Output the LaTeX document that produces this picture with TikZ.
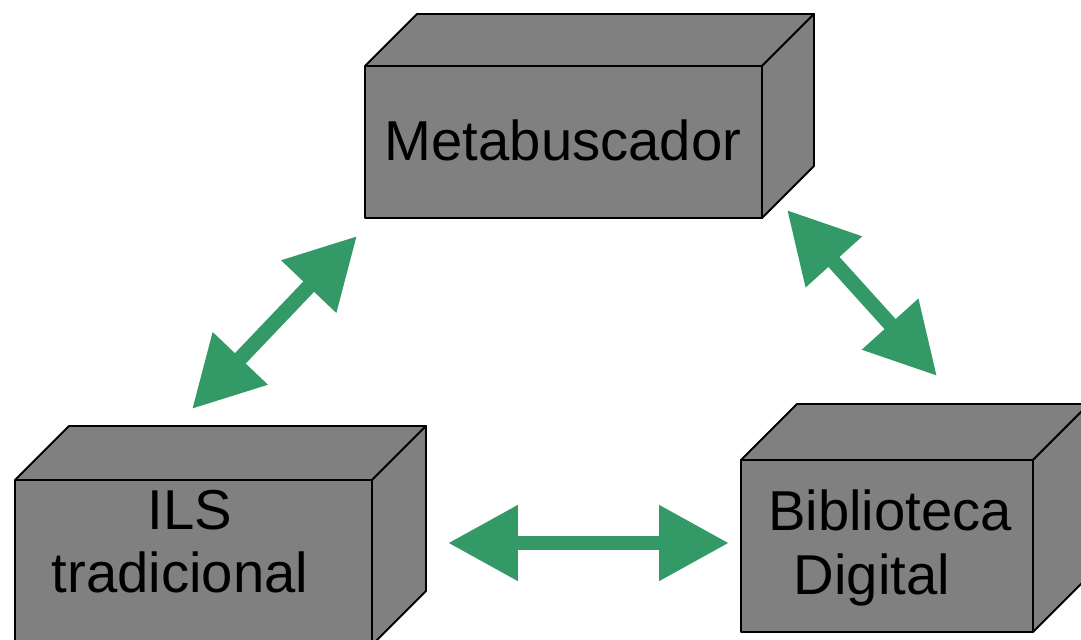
\documentclass[tikz,border=0pt]{standalone}
\usepackage{fontspec}
\setmainfont{Liberation Sans}
\usetikzlibrary{arrows.meta}
\definecolor{gris}{RGB}{128,128,128}
\definecolor{verde}{RGB}{51,153,102}

\tikzset{
  cara/.style={draw=black, fill=gris, line width=1.1pt, line join=round},
  frente/.style={cara, rectangle, outer sep=0pt, inner sep=0pt},
  rotulo/.style={align=center, inner sep=0pt, font=\fontsize{32}{36}\selectfont},
  flecha/.style={verde, line width=8.5pt,
    {Triangle[length=1.4cm,width=1.44cm]}-{Triangle[length=1.4cm,width=1.44cm]}}
}
% top and right faces of a box, #1 = front node, #2 = depth
\newcommand{\cubo}[2]{%
  \draw[cara] (#1.north west) -- ([shift={(#2,-#2)}]#1.north west)
    -- ([shift={(#2,-#2)}]#1.north east) -- (#1.north east) -- cycle;
  \draw[cara] (#1.north east) -- ([shift={(#2,-#2)}]#1.north east)
    -- ([shift={(#2,-#2)}]#1.south east) -- (#1.south east) -- cycle;
}

\begin{document}
\begin{tikzpicture}[x=0.02cm,y=-0.02cm]
  \useasboundingbox (0,0) rectangle (1081,639);
  \clip (0,0) rectangle (1081,639);

  % boxes
  \node[frente, minimum width=7.94cm, minimum height=3.04cm] (meta) at (563.5,142) {};
  \cubo{meta}{52}
  \node[frente, minimum width=7.14cm, minimum height=3.3cm] (ils) at (193.5,562.5) {};
  \cubo{ils}{54}
  \node[frente, minimum width=5.84cm, minimum height=3.44cm] (bib) at (887,546) {};
  \cubo{bib}{56}

  \node[rotulo] (metatxt) at (563,140) {Metabuscador};
  \node[rotulo] (ilstxt) at (180,541.5) {\hspace*{0.4cm}ILS\\tradicional};
  \node[rotulo] (bibtxt) at (890,548) {Biblioteca\\Digital\hspace*{0.72cm}};

  % arrows
  \coordinate (m1) at (357,236);
  \coordinate (i1) at (192,409);
  \coordinate (m2) at (787,210);
  \coordinate (b1) at (937,376);
  \coordinate (i2) at (448,543);
  \coordinate (b2) at (729,543);
  \draw[flecha] (i1) -- (m1);
  \draw[flecha] (m2) -- (b1);
  \draw[flecha] (i2) -- (b2);
\end{tikzpicture}
\end{document}
